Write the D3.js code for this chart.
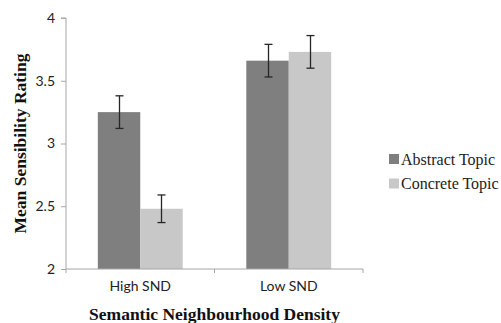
<!DOCTYPE html>
<html>
<head>
<meta charset="utf-8">
<script src="https://cdn.jsdelivr.net/npm/d3@7"></script>
<style>
  html, body { margin: 0; padding: 0; background: #fff; }
  svg { display: block; }
</style>
</head>
<body>
<svg id="chart" width="501" height="323"></svg>
<script>
// Mean sensibility ratings by semantic neighbourhood density and topic type
const categories = ["High SND", "Low SND"];
const seriesNames = ["Abstract Topic", "Concrete Topic"];
const abstractMeans = [3.25, 3.66];
const concreteMeans = [2.48, 3.73];
const abstractErr = [0.13, 0.13];
const concreteErr = [0.11, 0.13];
const yTicks = [2, 2.5, 3, 3.5, 4];
const colors = ["#7f7f7f", "#c8c8c8"];

const seriesValues = [abstractMeans, concreteMeans];
const seriesErrors = [abstractErr, concreteErr];

const svg = d3.select("#chart");
const plot = { left: 66, right: 363, top: 18, bottom: 269 };

const y = d3.scaleLinear().domain([2, 4]).range([plot.bottom, plot.top]);
const x0 = d3.scaleBand().domain(categories).range([plot.left, plot.right]).padding(0);
const x1 = d3.scaleBand().domain(seriesNames).range([0, x0.bandwidth()])
  .paddingInner(0).paddingOuter(0.75);

const axisColor = "#a6a6a6";
const tickFont = "Lato, 'Open Sans', sans-serif";
const serif = "'Liberation Serif', 'Times New Roman', serif";

// bars
const rows = categories.map((c, i) => seriesNames.map((s, j) => ({
  cat: c, series: s, value: seriesValues[j][i], err: seriesErrors[j][i], color: colors[j]
}))).flat();

const bars = svg.append("g");
bars.selectAll("rect").data(rows).join("rect")
  .attr("x", d => x0(d.cat) + x1(d.series))
  .attr("y", d => y(d.value))
  .attr("width", x1.bandwidth())
  .attr("height", d => y(2) - y(d.value))
  .attr("fill", d => d.color);

// error bars
const capW = 8;
const eb = svg.append("g").attr("stroke", "#262626").attr("stroke-width", 1.3);
rows.forEach(d => {
  const cx = Math.round(x0(d.cat) + x1(d.series) + x1.bandwidth() / 2) + 0.5;
  const yHi = y(d.value + d.err), yLo = y(d.value - d.err);
  eb.append("line").attr("x1", cx).attr("x2", cx).attr("y1", yHi).attr("y2", yLo);
  eb.append("line").attr("x1", cx - capW / 2).attr("x2", cx + capW / 2).attr("y1", yHi).attr("y2", yHi);
  eb.append("line").attr("x1", cx - capW / 2).attr("x2", cx + capW / 2).attr("y1", yLo).attr("y2", yLo);
});

// y axis
const yAxis = svg.append("g")
  .attr("transform", `translate(${plot.left},0)`)
  .call(d3.axisLeft(y).tickValues(yTicks).tickFormat(d3.format("")).tickSize(5).tickPadding(6));
yAxis.select(".domain").attr("stroke", axisColor).attr("d", `M-5,${y(4)}H0V${y(2)}`);
yAxis.selectAll(".tick line").attr("stroke", axisColor);
yAxis.selectAll(".tick text").attr("fill", "#222").style("font-family", tickFont).style("font-size", "14px");

// x axis: labels centered on groups, ticks on group boundaries
const xAxis = svg.append("g")
  .attr("transform", `translate(0,${plot.bottom})`)
  .call(d3.axisBottom(x0).tickSize(0).tickPadding(12));
xAxis.select(".domain").attr("stroke", axisColor).attr("d", `M${plot.left},0H${plot.right}`);
xAxis.selectAll(".tick text").attr("fill", "#222").style("font-family", tickFont).style("font-size", "14px");
const edges = categories.map(c => x0(c)).concat([x0(categories[categories.length - 1]) + x0.bandwidth()]);
xAxis.selectAll("line.edge").data(edges).join("line")
  .attr("class", "edge")
  .attr("x1", d => d).attr("x2", d => d)
  .attr("y1", 0).attr("y2", 4)
  .attr("stroke", axisColor);

// axis titles
svg.append("text")
  .attr("x", (plot.left + plot.right) / 2)
  .attr("y", 320)
  .attr("text-anchor", "middle")
  .style("font-family", serif).style("font-weight", "bold").style("font-size", "17.5px")
  .attr("fill", "#111")
  .text("Semantic Neighbourhood Density");

svg.append("text")
  .attr("transform", `translate(26,${(plot.top + plot.bottom) / 2}) rotate(-90)`)
  .attr("text-anchor", "middle")
  .style("font-family", serif).style("font-weight", "bold").style("font-size", "17.5px")
  .attr("fill", "#111")
  .text("Mean Sensibility Rating");

// legend
const legend = svg.append("g").attr("transform", "translate(389,159)");
seriesNames.forEach((s, i) => {
  const g = legend.append("g").attr("transform", `translate(0,${i * 24.5})`);
  g.append("rect").attr("x", 0).attr("y", -5).attr("width", 10).attr("height", 10).attr("fill", colors[i]);
  g.append("text").attr("x", 12).attr("y", 5.5)
    .style("font-family", serif).style("font-size", "16px").attr("fill", "#222")
    .text(s);
});
</script>
</body>
</html>
